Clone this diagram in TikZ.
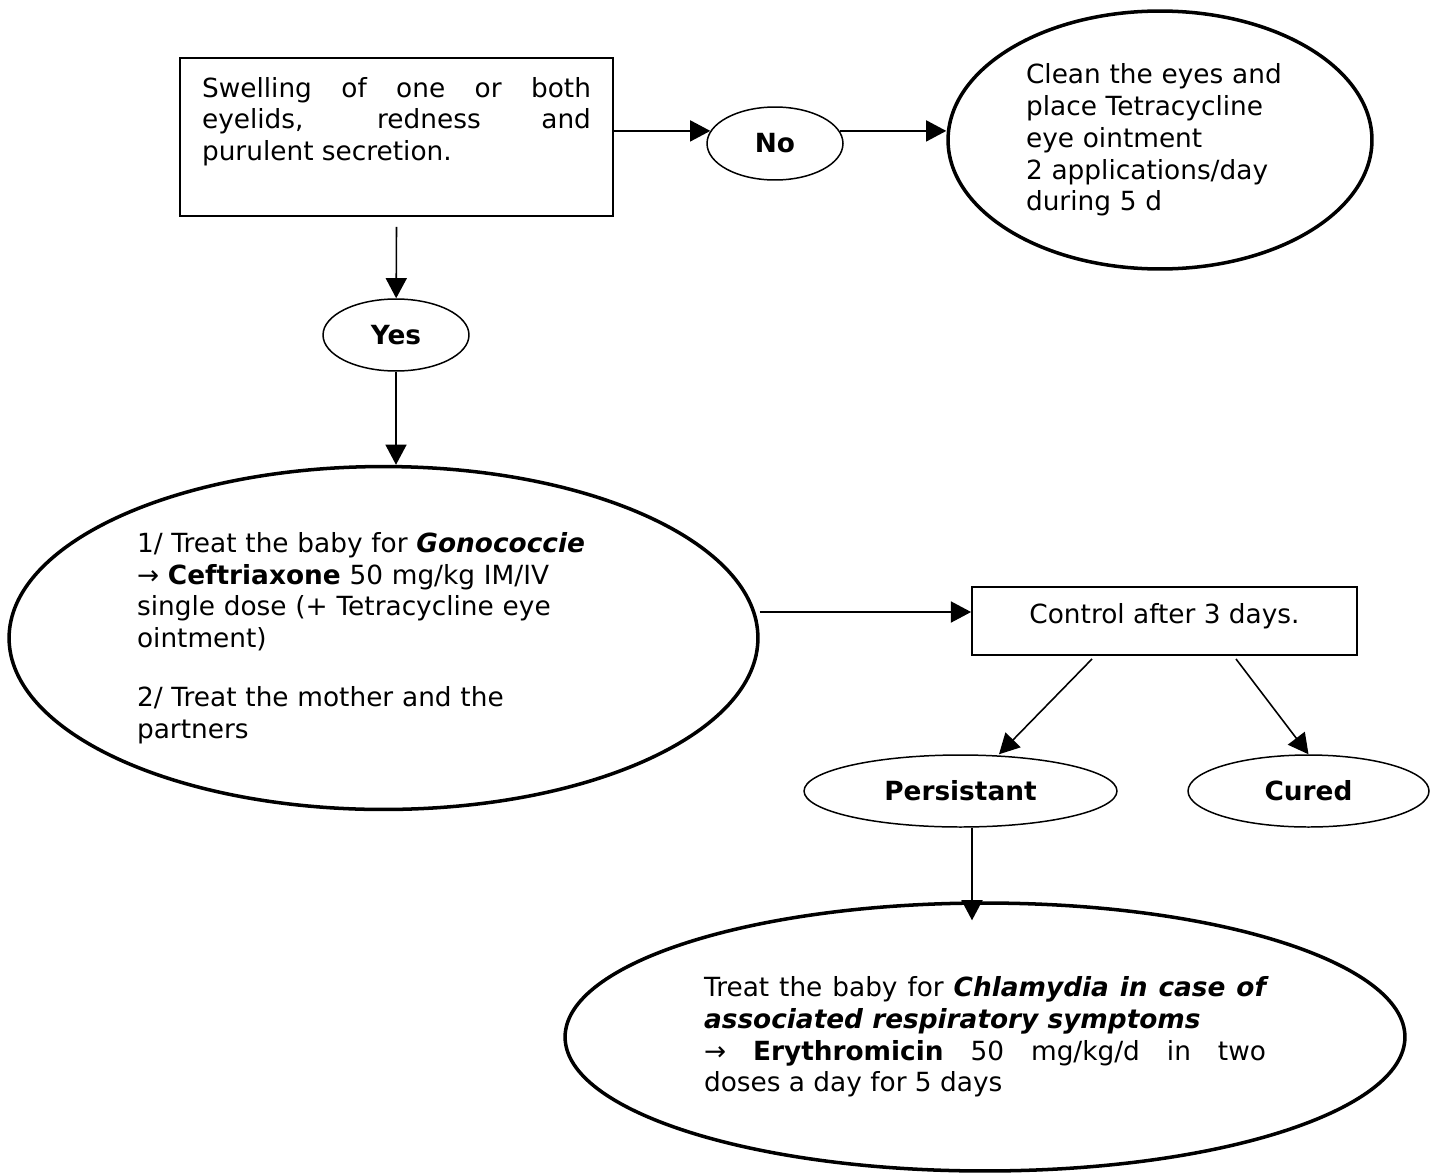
\documentclass[tikz,border=0pt]{standalone}
\usepackage{fontspec}
\setmainfont{DejaVu Sans}
\usetikzlibrary{arrows.meta,shapes.geometric}
\tikzstyle{every node}=[font=\fontsize{15}{18.1}\selectfont]
\tikzstyle{arr}=[line width=0.9pt,-{Triangle[length=11.5pt,width=12pt]}]
\tikzstyle{box}=[draw,rectangle,line width=1.1pt]
\tikzstyle{bigoval}=[draw,ellipse,line width=2pt,inner sep=0pt,align=left]
\tikzstyle{oval}=[draw,ellipse,line width=0.85pt,inner sep=0pt,font=\fontsize{15}{18.1}\selectfont\bfseries]

\begin{document}
\begin{tikzpicture}[x=0.02cm, y=-0.02cm]
	\useasboundingbox (0,0) rectangle (1439,1173);
	\node[box, minimum width=8.66cm, minimum height=3.16cm, inner xsep=0.44cm, inner ysep=0.38cm] (swell) at (396.5,137)
		{\parbox[c][2.4cm][t]{7.78cm}{Swelling of one or both\linebreak eyelids, redness and\linebreak purulent secretion.}};
	\node[oval, minimum width=2.72cm, minimum height=1.46cm] (no) at (775,143.5) {No};
	\node[bigoval, minimum width=8.48cm, minimum height=5.16cm, text width=5.36cm] (clean) at (1160,140)
		{Clean the eyes and\\ place Tetracycline\\ eye ointment\\ 2 applications/day\\ during 5 d};
	\node[oval, minimum width=2.92cm, minimum height=1.44cm] (yes) at (396,335) {Yes};
	\node[bigoval, minimum width=14.98cm, minimum height=6.86cm, text width=9.86cm] (treat) at (383.5,638)
		{1/ Treat the baby for \textbf{\textit{Gonococcie}}\\ → \textbf{Ceftriaxone} 50 mg/kg IM/IV\\ single dose (+ Tetracycline eye\\ ointment)\\[15.3pt] 2/ Treat the mother and the\\ partners};
	\node[box, minimum width=7.7cm, inner ysep=0pt, text height=0.72cm, text depth=0.64cm] (control) at (1164.5,621) {Control after 3 days.};
	\node[oval, minimum width=6.26cm, minimum height=1.44cm] (persist) at (960.5,791) {Persistant};
	\node[oval, minimum width=4.82cm, minimum height=1.44cm] (cured) at (1308.5,791) {Cured};
	\node[bigoval, minimum width=16.8cm, minimum height=5.36cm, text width=11.24cm, align=justify] (chlam) at (985,1037)
		{Treat the baby for \textbf{\textit{Chlamydia in case of associated respiratory symptoms}}\par → \textbf{Erythromicin} 50 mg/kg/d in two\linebreak doses a day for 5 days};
	\coordinate (c1) at ([yshift=0.18cm]control.west);
	\draw[arr] (swell.east |- no.169) -- (no.169);
	\draw[arr] (no.11) -- (clean.west |- no.11);
	\draw[arr] ([yshift=-0.2cm]swell.south) -- (yes);
	\draw[arr] (yes) -- (yes |- treat.north);
	\draw[arr] (treat.east |- c1) -- (c1);
	\draw[arr] ([xshift=-1.45cm,yshift=-0.06cm]control.south) -- ([xshift=0.77cm]persist.north);
	\draw[arr] ([xshift=1.43cm,yshift=-0.06cm]control.south) -- (cured.north);
	\draw[arr, shorten >=-0.38cm] ([xshift=0.23cm]persist.south) -- ([xshift=0.23cm]persist.south |- chlam.north);
\end{tikzpicture}
\end{document}
